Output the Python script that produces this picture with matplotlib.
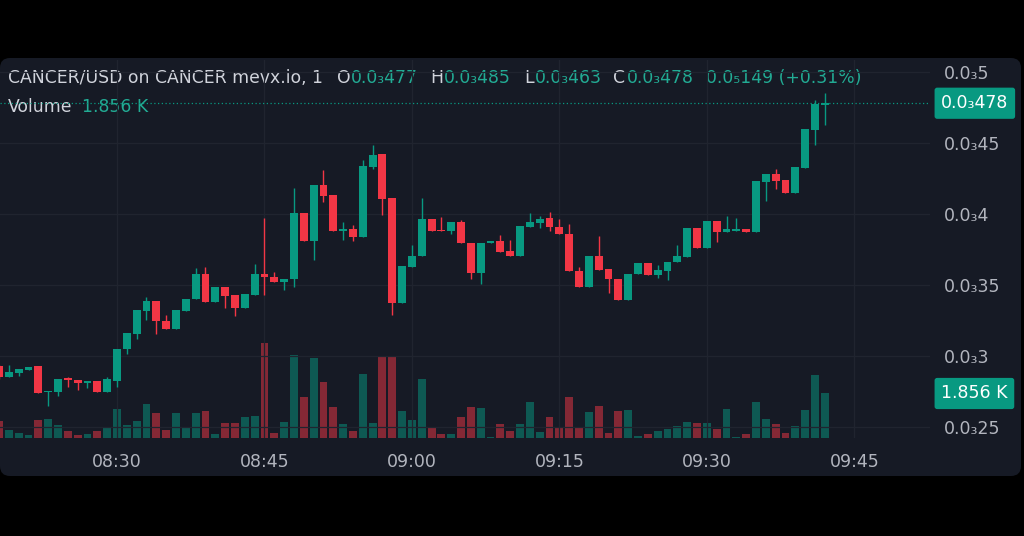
import numpy as np
import pandas as pd
import matplotlib
matplotlib.use('Agg')
import matplotlib.pyplot as plt
import matplotlib.transforms as mtransforms
from matplotlib.patches import FancyBboxPatch

# prices are in units of 1e-6 USD  (0.0₃478 == 0.000478 == 478)
start = '08:18'
opens = [293, 285, 288, 290, 293, 274.6, 274.6, 284.5, 283.1, 281.0,
         282.4, 274.6, 282.4, 304.9, 315.5, 331.7, 338.7, 324.6, 319.0, 331.7,
         340.1, 357.7, 338.0, 348.6, 343.0, 333.8, 343.0, 357.7, 355.6, 352.1,
         354.2, 400.7, 381.0, 420.4, 413.4, 388.0, 389.4, 383.8, 433.1, 442.3,
         411.3, 337.3, 362.7, 370.4, 396.5, 388.7, 388.0, 394.4, 379.6, 358.5,
         379.6, 381.0, 373.9, 370.4, 390.8, 393.7, 397.2, 390.8, 385.9, 359.9,
         348.6, 370.4, 361.3, 354.2, 339.4, 357.7, 365.5, 357.0, 359.9, 366.2,
         369.7, 390.1, 376.1, 395.1, 387.3, 388.0, 389.4, 387.3, 422.5, 428.2,
         423.9, 414.8, 432.4, 459.2, 477]
highs = [294, 294, 291, 292, 293, 275.4, 284, 285.2, 283.1, 282.4,
         282.4, 285.2, 304.9, 316.2, 332.4, 341.5, 338.7, 328.9, 332.4, 340.1,
         362.0, 362.7, 348.6, 348.6, 343.0, 343.7, 364.8, 397.2, 359.2, 354.2,
         418.3, 400.7, 420.4, 431.0, 413.4, 394.4, 392.3, 438.0, 448.6, 442.3,
         411.3, 363.4, 378.2, 411.3, 396.5, 397.9, 394.4, 395.8, 379.6, 379.6,
         381.0, 385.2, 381.7, 391.5, 400.7, 398.6, 401.4, 396.5, 393.0, 362.7,
         370.4, 384.5, 361.3, 354.2, 357.7, 365.5, 365.5, 364.1, 366.2, 378.2,
         390.1, 390.1, 395.1, 395.1, 398.6, 397.2, 389.4, 423.2, 428.2, 431.7,
         423.9, 433.1, 459.9, 480.3, 485]
lows = [284, 285, 286, 290, 274, 264.8, 271.8, 278.2, 276.1, 277.5,
        274.6, 274.6, 278.2, 301.4, 312.0, 325.4, 315.5, 319.0, 319.0, 331.7,
        340.1, 338.0, 338.0, 333.8, 328.2, 333.8, 343.0, 343.0, 352.1, 346.5,
        348.6, 381.0, 367.6, 408.5, 388.0, 381.7, 381.0, 383.8, 431.7, 399.3,
        328.9, 337.3, 362.7, 370.4, 388.0, 388.0, 385.9, 379.6, 354.2, 350.7,
        379.6, 373.2, 370.4, 370.4, 390.8, 390.1, 388.0, 385.9, 359.9, 348.6,
        348.6, 360.6, 344.4, 339.4, 339.4, 357.7, 357.0, 354.9, 353.5, 366.2,
        369.7, 376.1, 376.1, 380.3, 387.3, 388.0, 387.3, 387.3, 409.2, 417.6,
        414.8, 414.8, 432.4, 448.6, 463]
closes = [285, 289, 291, 292, 274, 275.4, 283.8, 283.1, 281.0, 282.4,
          274.6, 283.8, 304.9, 316.2, 332.4, 338.7, 324.6, 319.0, 332.4, 340.1,
          357.7, 338.0, 348.6, 342.3, 333.8, 343.7, 357.7, 355.6, 352.1, 354.2,
          400.7, 381.0, 420.4, 412.7, 388.0, 389.4, 383.8, 433.8, 441.5, 410.6,
          337.3, 363.4, 370.4, 396.5, 388.0, 388.0, 394.4, 379.6, 358.5, 379.6,
          381.0, 373.2, 370.4, 391.5, 394.4, 396.5, 390.8, 385.9, 359.9, 348.6,
          370.4, 360.6, 354.2, 339.4, 357.7, 365.5, 357.0, 360.6, 366.2, 370.4,
          390.1, 376.1, 395.1, 387.3, 389.4, 389.4, 387.3, 423.2, 428.2, 423.2,
          414.8, 433.1, 459.9, 477.5, 478]
volumes = [709, 334, 209, 125, 751, 792, 542, 292, 125, 167,
           292, 417, 1209, 542, 709, 1418, 1043, 334, 1043, 417,
           1043, 1126, 167, 626, 626, 876, 917, 3962, 209, 667,
           3461, 1710, 3336, 2335, 1293, 584, 292, 2669, 626, 3419,
           3419, 1126, 751, 2460, 442, 167, 167, 859, 1276, 1234,
           54, 567, 292, 567, 1501, 250, 876, 417, 1710, 442,
           1068, 1334, 209, 1109, 1168, 96, 167, 292, 375, 500,
           655, 613, 613, 375, 1197, 54, 167, 1501, 792, 571,
           209, 488, 1168, 2627, 1856]

price_ticks = [250, 300, 350, 400, 450, 500]
price_labels = ['0.0₃25', '0.0₃3', '0.0₃35', '0.0₃4', '0.0₃45', '0.0₃5']
time_ticks = ['08:30', '08:45', '09:00', '09:15', '09:30', '09:45']

header = [('CANCER/USD on CANCER mevx.io, 1', 8, 'sym'), ('O', 337, 'sym'), ('0.0₃477', 351, 'val'),
          ('H', 430, 'sym'), ('0.0₃485', 444, 'val'), ('L', 524, 'sym'), ('0.0₃463', 535, 'val'),
          ('C', 613, 'sym'), ('0.0₃478', 627, 'val'), ('0.0₅149 (+0.31%)', 706, 'val')]

UP = '#089981'
DOWN = '#f23645'
TEAL_TXT = '#22ab94'
BG = '#161a25'
GRID = '#20242f'
TXT = '#d1d4dc'
AXTXT = '#b2b5be'

plt.rcParams['font.family'] = ['DejaVu Sans']

W, H = 1024, 536
fig = plt.figure(figsize=(W / 100, H / 100), dpi=100, facecolor='black')

# background layer in pixel coordinates
bg = fig.add_axes([0, 0, 1, 1])
bg.set_xlim(0, W)
bg.set_ylim(H, 0)
bg.axis('off')
bg.add_patch(FancyBboxPatch((0, 58), 1021, 418, boxstyle='round,pad=0,rounding_size=10',
                            fc=BG, ec='none'))

for txt, x, kind in header:
    bg.text(x, 78, txt, color=TXT if kind == 'sym' else TEAL_TXT, fontsize=12.4, va='center')
bg.text(8, 107, 'Volume', color=TXT, fontsize=12.4, va='center')
bg.text(82, 107, '1.856 K', color=TEAL_TXT, fontsize=12.4, va='center')

# x values: minutes of the day
t0 = pd.Timestamp('2024-01-01 ' + start)
times = pd.date_range(t0, periods=len(opens), freq='min')
x = np.array([t.hour * 60 + t.minute for t in times], dtype=float)
o = np.array(opens)
c = np.array(closes)
up = c >= o

# volume pane (below)
vax = fig.add_axes([0, 1 - 438 / H, 930 / W, 378 / H])
vax.set_facecolor('none')
vax.bar(x, volumes, width=0.8, color=np.where(up, UP, DOWN), alpha=0.5, lw=0)
vax.set_ylim(0, 378 * 41.7)
vax.set_xlim(498.1, 592.7)
vax.axis('off')

# price pane
ax = fig.add_axes([0, 1 - 438 / H, 930 / W, 378 / H], sharex=vax)
ax.set_facecolor('none')
cols = np.where(up, UP, DOWN)
ax.vlines(x, lows, highs, color=cols, lw=1.0, zorder=3)
body_lo = np.minimum(o, c)
body_h = np.maximum(np.abs(c - o), 0.9)
ax.bar(x, body_h, bottom=body_lo, width=0.8, color=cols, lw=0, zorder=4)
ax.axhline(closes[-1], color=UP, lw=0.9, ls=(0, (1, 2)), zorder=2)
ax.set_ylim(242.25, 508.45)
ax.set_xlim(498.1, 592.7)

tick_min = [int(s[:2]) * 60 + int(s[3:]) for s in time_ticks]
ax.set_xticks(tick_min)
ax.set_xticklabels(time_ticks)
ax.set_yticks(price_ticks)
ax.set_yticklabels(price_labels)
ax.yaxis.tick_right()
ax.tick_params(axis='x', length=0, pad=11, labelsize=12.5, colors=AXTXT)
ax.tick_params(axis='y', length=0, pad=10, labelsize=12.5, colors=AXTXT)
ax.grid(True, color=GRID, lw=0.9)
ax.set_axisbelow(True)
for s in ax.spines.values():
    s.set_visible(False)

# last value badges on the price scale
tr_p = mtransforms.blended_transform_factory(ax.transAxes, ax.transData)
ax.text(1.012, closes[-1], '0.0₃478', transform=tr_p, color='white', fontsize=12.5,
        va='center', ha='left', zorder=6,
        bbox=dict(boxstyle='round,pad=0.38,rounding_size=0.15', fc=UP, ec='none'))
tr_v = mtransforms.blended_transform_factory(vax.transAxes, vax.transData)
vax.text(1.012, volumes[-1], '1.856 K', transform=tr_v, color='white', fontsize=12.5,
         va='center', ha='left', zorder=6, clip_on=False,
         bbox=dict(boxstyle='round,pad=0.38,rounding_size=0.15', fc=UP, ec='none'))

fig.savefig('out.png', dpi=100, facecolor='black')
